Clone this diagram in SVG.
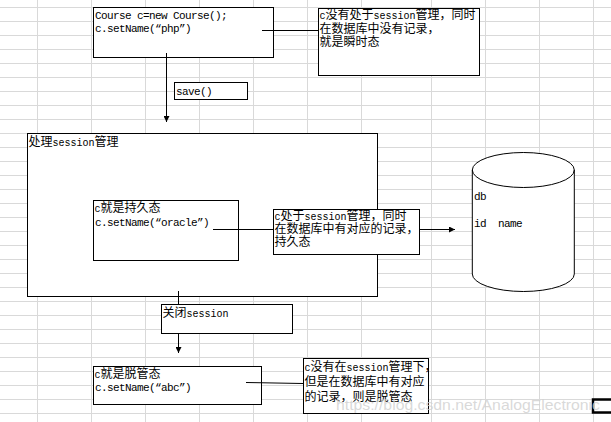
<svg xmlns="http://www.w3.org/2000/svg" width="611" height="422" viewBox="0 0 611 422">
<style>
.grid line{stroke:#d9d9d9;stroke-width:1}
.box{fill:#fff;stroke:#000;stroke-width:1}
.conn{stroke:#000;stroke-width:1;fill:none}
.m{font-family:"Liberation Mono","DejaVu Sans Mono",monospace;font-size:11px;letter-spacing:-0.6px;fill:#000}
.t{font-family:"Liberation Mono","DejaVu Sans Mono",monospace;font-size:10px;letter-spacing:0}
.c{font-family:"Noto Sans CJK SC","Noto Sans CJK JP",sans-serif;font-size:12px;fill:#000}
</style>
<defs>
<marker id="arr" markerUnits="userSpaceOnUse" markerWidth="6" markerHeight="6" refX="6" refY="3" orient="auto">
<path d="M0,0 L6,3 L0,6 z" fill="#000"/>
</marker>
</defs>
<rect x="0" y="0" width="611" height="422" fill="#fff"/>
<g class="grid">
<line x1="37.5" y1="0" x2="37.5" y2="422"/><line x1="91.5" y1="0" x2="91.5" y2="422"/><line x1="145.5" y1="0" x2="145.5" y2="422"/><line x1="199.5" y1="0" x2="199.5" y2="422"/><line x1="253.5" y1="0" x2="253.5" y2="422"/><line x1="307.5" y1="0" x2="307.5" y2="422"/><line x1="361.5" y1="0" x2="361.5" y2="422"/><line x1="431.5" y1="0" x2="431.5" y2="422"/><line x1="485.5" y1="0" x2="485.5" y2="422"/><line x1="539.5" y1="0" x2="539.5" y2="422"/><line x1="593.5" y1="0" x2="593.5" y2="422"/>
<line x1="0" y1="7.5" x2="611" y2="7.5"/><line x1="0" y1="21.5" x2="611" y2="21.5"/><line x1="0" y1="35.5" x2="611" y2="35.5"/><line x1="0" y1="49.5" x2="611" y2="49.5"/><line x1="0" y1="63.5" x2="611" y2="63.5"/><line x1="0" y1="77.5" x2="611" y2="77.5"/><line x1="0" y1="91.5" x2="611" y2="91.5"/><line x1="0" y1="105.5" x2="611" y2="105.5"/><line x1="0" y1="119.5" x2="611" y2="119.5"/><line x1="0" y1="133.5" x2="611" y2="133.5"/><line x1="0" y1="147.5" x2="611" y2="147.5"/><line x1="0" y1="161.5" x2="611" y2="161.5"/><line x1="0" y1="175.5" x2="611" y2="175.5"/><line x1="0" y1="189.5" x2="611" y2="189.5"/><line x1="0" y1="203.5" x2="611" y2="203.5"/><line x1="0" y1="217.5" x2="611" y2="217.5"/><line x1="0" y1="231.5" x2="611" y2="231.5"/><line x1="0" y1="245.5" x2="611" y2="245.5"/><line x1="0" y1="259.5" x2="611" y2="259.5"/><line x1="0" y1="273.5" x2="611" y2="273.5"/><line x1="0" y1="287.5" x2="611" y2="287.5"/><line x1="0" y1="301.5" x2="611" y2="301.5"/><line x1="0" y1="315.5" x2="611" y2="315.5"/><line x1="0" y1="329.5" x2="611" y2="329.5"/><line x1="0" y1="343.5" x2="611" y2="343.5"/><line x1="0" y1="357.5" x2="611" y2="357.5"/><line x1="0" y1="371.5" x2="611" y2="371.5"/><line x1="0" y1="385.5" x2="611" y2="385.5"/><line x1="0" y1="399.5" x2="611" y2="399.5"/><line x1="0" y1="413.5" x2="611" y2="413.5"/>
</g>
<g id="process-session">
<rect class="box" x="27.5" y="133.5" width="350" height="163"/>
<text class="c" x="28.5" y="146">处理<tspan class="t">session</tspan>管理</text>
</g>
<g id="new-course">
<rect class="box" x="93.5" y="7.5" width="180" height="50"/>
<text class="m" x="95" y="19">Course c=new Course();</text>
<text class="m" x="95" y="32">c.setName(“php”)</text>
</g>
<g id="transient-note">
<rect class="box" x="318.5" y="8.5" width="161" height="67"/>
<text class="c" x="319.5" y="19"><tspan class="t">c</tspan>没有处于<tspan class="t">session</tspan>管理，同时</text>
<text class="c" x="319.5" y="32.5">在数据库中没有记录，</text>
<text class="c" x="319.5" y="46">就是瞬时态</text>
</g>
<g id="save">
<rect class="box" x="174.5" y="82.5" width="73" height="17"/>
<text class="m" x="176" y="95">save()</text>
</g>
<g id="persistent">
<rect class="box" x="93.5" y="200.5" width="145" height="60"/>
<text class="c" x="94.5" y="212"><tspan class="t">c</tspan>就是持久态</text>
<text class="m" x="95" y="225.5">c.setName(“oracle”)</text>
</g>
<g id="persistent-note">
<rect class="box" x="273.5" y="209.5" width="146" height="45"/>
<text class="c" x="274.5" y="220"><tspan class="t">c</tspan>处于<tspan class="t">session</tspan>管理，同时</text>
<text class="c" x="274.5" y="233">在数据库中有对应的记录，</text>
<text class="c" x="274.5" y="246">持久态</text>
</g>
<g id="db">
<path class="box" d="M472.3,170 L472.3,274 A51,17.5 0 0 0 574.3,274 L574.3,170 A51,17.5 0 0 0 472.3,170 Z"/>
<path class="conn" d="M472.3,170 A51,17.5 0 0 0 574.3,170"/>
<text class="m" x="474" y="200">db</text>
<text class="m" x="474" y="226.5">id</text>
<text class="m" x="498" y="226.5">name</text>
</g>
<g id="close-session">
<rect class="box" x="161.5" y="304.5" width="131" height="29"/>
<text class="c" x="162.5" y="317">关闭<tspan class="t">session</tspan></text>
</g>
<g id="detached">
<rect class="box" x="93.5" y="366.5" width="168" height="38"/>
<text class="c" x="94.5" y="377.5"><tspan class="t">c</tspan>就是脱管态</text>
<text class="m" x="95" y="391">c.setName(“abc”)</text>
</g>
<g id="detached-note">
<rect class="box" x="303.5" y="358.5" width="125" height="55"/>
<text class="c" x="304.5" y="371"><tspan class="t">c</tspan>没有在<tspan class="t">session</tspan>管理下，</text>
<text class="c" x="304.5" y="386">但是在数据库中有对应</text>
<text class="c" x="304.5" y="401">的记录，则是脱管态</text>
</g>
<g id="connectors">
<line class="conn" x1="262" y1="30.5" x2="318" y2="30.5"/>
<line class="conn" x1="166.5" y1="53" x2="166.5" y2="122" marker-end="url(#arr)"/>
<line class="conn" x1="213" y1="229.5" x2="273" y2="229.5"/>
<line class="conn" x1="419.5" y1="229.5" x2="455" y2="229.5" marker-end="url(#arr)"/>
<line class="conn" x1="178.5" y1="291" x2="178.5" y2="304"/>
<line class="conn" x1="178.5" y1="334" x2="178.5" y2="353" marker-end="url(#arr)"/>
<line class="conn" x1="246" y1="382.5" x2="303" y2="383.5"/>
</g>
<rect x="593" y="399.5" width="22" height="13" fill="#fff" stroke="#000" stroke-width="2.5"/>
<text x="336" y="410" font-family="Liberation Sans, Arial, sans-serif" font-size="15" fill="#d2d2d2" fill-opacity="0.85" textLength="264" lengthAdjust="spacingAndGlyphs">https://blog.csdn.net/AnalogElectronic</text>
</svg>
